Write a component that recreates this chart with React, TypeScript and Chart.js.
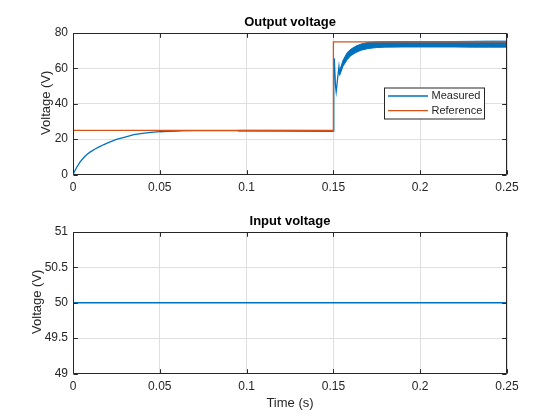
import React, { useEffect, useRef } from "react";
import { Chart, registerables } from "chart.js";

Chart.register(...registerables);

// ---------- data ----------
const xTicks = [0, 0.05, 0.1, 0.15, 0.2, 0.25];
const yTicksOutput = [0, 20, 40, 60, 80];
const yTicksInput = [49, 49.5, 50, 50.5, 51];

const referenceTime = [0, 0.15, 0.15, 0.25];
const referenceValue = [25, 25, 75, 75];

const measuredTime = [
  0, 0.002, 0.004, 0.006, 0.008, 0.01, 0.0125, 0.015, 0.0175, 0.02, 0.025, 0.03,
  0.035, 0.04, 0.045, 0.05, 0.055, 0.06, 0.07, 0.1, 0.1498, 0.1502, 0.1505,
  0.1512, 0.1516, 0.1525, 0.1532, 0.1536, 0.1545, 0.1555, 0.1565, 0.158, 0.16,
  0.163, 0.166, 0.17, 0.175, 0.18, 0.19, 0.2, 0.22, 0.25,
];
const measuredValue = [
  0, 3.8, 7.0, 9.3, 11.3, 12.8, 14.3, 15.6, 16.8, 17.9, 19.8, 21.2, 22.6, 23.3,
  23.8, 24.2, 24.5, 24.7, 24.8, 24.8, 24.6, 55, 65.7, 50, 46.8, 55, 61, 57.2,
  60, 62.8, 64.5, 67, 69, 70.8, 72, 72.8, 73.3, 73.5, 73.6, 73.6, 73.6, 73.6,
];

// ripple envelope of the measured signal (switching ripple band)
const ripple0Time = [0.05, 0.056, 0.062];
const ripple0High = [24.5, 24.8, 24.9];
const ripple0Low = [24.0, 24.3, 24.6];

const ripple1Time = [0.095, 0.12, 0.1498];
const ripple1High = [25.0, 25.0, 24.9];
const ripple1Low = [24.5, 24.5, 24.3];

const ripple2Time = [
  0.1536, 0.1555, 0.158, 0.16, 0.163, 0.166, 0.17, 0.175, 0.18, 0.19, 0.2, 0.21,
  0.22, 0.23, 0.24, 0.25,
];
const ripple2High = [
  58.5, 64.5, 69, 70.8, 72.6, 73.8, 74.6, 75, 75.1, 75.2, 75.2, 75.2, 75.2, 75.3,
  75.4, 75.4,
];
const ripple2Low = [
  56, 61.2, 65, 67.2, 69, 70.3, 71.2, 71.8, 72, 72.1, 72.1, 72.1, 72.1, 72, 72, 72,
];

const inputTime = [0, 0.25];
const inputValue = [50, 50];

// ---------- styles ----------
const BLUE = "#0072BD";
const ORANGE = "#D95319";
const AXIS = "#262626";
const GRID = "#dfdfdf";
const FONT = "'Liberation Sans', Arial, Helvetica, sans-serif";

const pts = (xs: number[], ys: number[]) => xs.map((x, i) => ({ x, y: ys[i] }));

const framePlugin = {
  id: "frame",
  afterDraw(chart: any) {
    const o = chart.options.plugins.frame || {};
    const { ctx, chartArea } = chart;
    const { left, right, top, bottom } = chartArea;
    const xs = chart.scales.x;
    const ys = chart.scales.y;
    ctx.save();
    ctx.strokeStyle = AXIS;
    ctx.lineWidth = 1;
    const L = Math.round(left) + 0.5;
    const R = Math.round(right) - 0.5;
    const T = Math.round(top) + 0.5;
    const B = Math.round(bottom) - 0.5;
    ctx.beginPath();
    ctx.rect(L, T, R - L, B - T);
    const tl = 4.3;
    (o.xTicks || []).forEach((v: number) => {
      const p = Math.round(xs.getPixelForValue(v)) + 0.5;
      ctx.moveTo(p, B);
      ctx.lineTo(p, B - tl);
      ctx.moveTo(p, T);
      ctx.lineTo(p, T + tl);
    });
    (o.yTicks || []).forEach((v: number) => {
      const p = Math.round(ys.getPixelForValue(v)) + 0.5;
      ctx.moveTo(L, p);
      ctx.lineTo(L + tl, p);
      ctx.moveTo(R, p);
      ctx.lineTo(R - tl, p);
    });
    ctx.stroke();

    // title
    ctx.fillStyle = "#000";
    ctx.font = `bold 13px ${FONT}`;
    ctx.textAlign = "center";
    ctx.textBaseline = "middle";
    ctx.fillText(o.title, (left + right) / 2, top - 11);

    // y label
    ctx.fillStyle = AXIS;
    ctx.font = `13px ${FONT}`;
    ctx.save();
    ctx.translate(o.yLabelX, (top + bottom) / 2 - 1);
    ctx.rotate(-Math.PI / 2);
    ctx.fillText(o.yLabel, 0, 0);
    ctx.restore();

    if (o.xLabel) {
      ctx.fillText(o.xLabel, (left + right) / 2, bottom + 30);
    }

    if (o.legend) {
      const lg = o.legend;
      ctx.fillStyle = "#fff";
      ctx.fillRect(lg.x, lg.y, lg.w, lg.h);
      ctx.strokeStyle = AXIS;
      ctx.lineWidth = 1;
      ctx.strokeRect(lg.x + 0.5, lg.y + 0.5, lg.w, lg.h);
      ctx.font = `11px ${FONT}`;
      ctx.textAlign = "left";
      lg.items.forEach((it: any, i: number) => {
        const yy = lg.y + 8.5 + i * 14.7;
        ctx.strokeStyle = it.color;
        ctx.lineWidth = 1.3;
        ctx.beginPath();
        ctx.moveTo(lg.x + 4, yy);
        ctx.lineTo(lg.x + 44, yy);
        ctx.stroke();
        ctx.fillStyle = AXIS;
        ctx.fillText(it.label, lg.x + 47.5, yy);
      });
    }
    ctx.restore();
  },
};

function makeOptions(
  yMin: number,
  yMax: number,
  yTicks: number[],
  padTop: number,
  xAxisHeight: number,
  frame: any
) {
  return {
    responsive: false,
    animation: false,
    events: [],
    layout: { padding: { top: padTop, right: 53, left: 0, bottom: 0 } },
    plugins: {
      legend: { display: false },
      tooltip: { enabled: false },
      frame,
    },
    elements: { point: { radius: 0 }, line: { tension: 0 } },
    scales: {
      x: {
        type: "linear",
        min: 0,
        max: 0.25,
        afterBuildTicks: (s: any) => {
          s.ticks = xTicks.map((v) => ({ value: v }));
        },
        afterFit: (s: any) => {
          s.height = xAxisHeight;
        },
        grid: { color: GRID, drawTicks: false },
        border: { display: false },
        ticks: {
          autoSkip: false,
          maxRotation: 0,
          padding: 6,
          color: AXIS,
          font: { family: FONT, size: 12 },
          callback: (v: any) => String(v),
        },
      },
      y: {
        type: "linear",
        min: yMin,
        max: yMax,
        afterBuildTicks: (s: any) => {
          s.ticks = yTicks.map((v) => ({ value: v }));
        },
        afterFit: (s: any) => {
          s.width = 73;
        },
        grid: { color: GRID, drawTicks: false },
        border: { display: false },
        ticks: {
          autoSkip: false,
          padding: 5,
          color: AXIS,
          font: { family: FONT, size: 12 },
          callback: (v: any) => String(v),
        },
      },
    },
  };
}

export default function App() {
  const topRef = useRef<HTMLCanvasElement>(null);
  const botRef = useRef<HTMLCanvasElement>(null);

  useEffect(() => {
    const line = (label: string, data: any[], color: string, order: number, extra: any = {}) => ({
      label,
      data,
      borderColor: color,
      backgroundColor: color,
      borderWidth: 1.3,
      pointRadius: 0,
      fill: false,
      order,
      ...extra,
    });

    const top = new Chart(topRef.current as HTMLCanvasElement, {
      type: "line",
      data: {
        datasets: [
          line("Reference", pts(referenceTime, referenceValue), ORANGE, 0),
          line("Measured", pts(measuredTime, measuredValue), BLUE, 1),
          line("ripple0High", pts(ripple0Time, ripple0High), BLUE, 2, { fill: "+1", borderWidth: 0.6 }),
          line("ripple0Low", pts(ripple0Time, ripple0Low), BLUE, 2, { borderWidth: 0.6 }),
          line("ripple1High", pts(ripple1Time, ripple1High), BLUE, 2, { fill: "+1", borderWidth: 0.6 }),
          line("ripple1Low", pts(ripple1Time, ripple1Low), BLUE, 2, { borderWidth: 0.6 }),
          line("ripple2High", pts(ripple2Time, ripple2High), BLUE, 2, { fill: "+1", borderWidth: 1 }),
          line("ripple2Low", pts(ripple2Time, ripple2Low), BLUE, 2, { borderWidth: 1 }),
        ],
      },
      options: makeOptions(0, 80, yTicksOutput, 33, 35.5, {
        title: "Output voltage",
        yLabel: "Voltage (V)",
        yLabelX: 46,
        xTicks,
        yTicks: yTicksOutput,
        legend: {
          x: 384,
          y: 87.5,
          w: 100,
          h: 31,
          items: [
            { label: "Measured", color: BLUE },
            { label: "Reference", color: ORANGE },
          ],
        },
      }) as any,
      plugins: [framePlugin],
    });

    const bot = new Chart(botRef.current as HTMLCanvasElement, {
      type: "line",
      data: {
        datasets: [line("Input", pts(inputTime, inputValue), BLUE, 0)],
      },
      options: makeOptions(49, 51, yTicksInput, 22, 46.5, {
        title: "Input voltage",
        yLabel: "Voltage (V)",
        yLabelX: 37.5,
        xLabel: "Time (s)",
        xTicks,
        yTicks: yTicksInput,
      }) as any,
      plugins: [framePlugin],
    });

    return () => {
      top.destroy();
      bot.destroy();
    };
  }, []);

  return (
    <div
      style={{
        position: "absolute",
        left: 0,
        top: 0,
        width: 560,
        height: 420,
        background: "#fff",
      }}
    >
      <canvas ref={topRef} width={560} height={210} style={{ display: "block", width: 560, height: 210 }} />
      <canvas ref={botRef} width={560} height={210} style={{ display: "block", width: 560, height: 210 }} />
    </div>
  );
}
